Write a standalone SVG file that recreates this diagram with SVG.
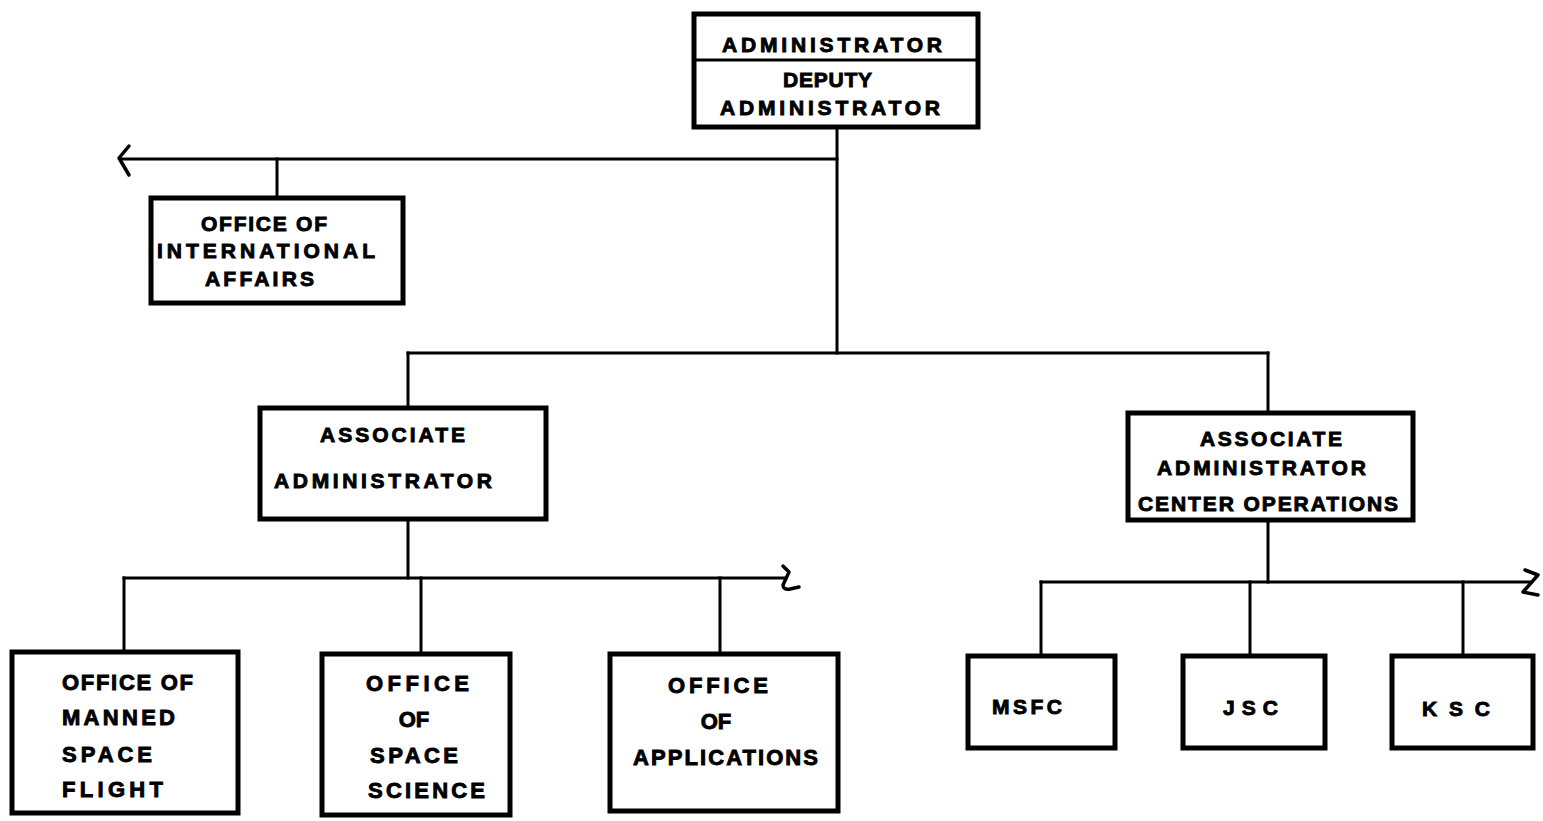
<svg xmlns="http://www.w3.org/2000/svg" width="1543" height="821" viewBox="0 0 1543 821">
<style>
.box{fill:#fff;stroke:#000;stroke-width:5}
.ln{fill:none;stroke:#000;stroke-width:3;stroke-linecap:square;stroke-linejoin:round}
.zz{fill:none;stroke:#000;stroke-width:3.5;stroke-linecap:round;stroke-linejoin:round}
text{font-family:"Liberation Sans",Arial,sans-serif;font-weight:bold;font-size:21px;fill:#000;stroke:#000;stroke-width:0.9}
.b{font-size:22px}
.c{text-anchor:middle}
</style>
<rect width="1543" height="821" fill="#fff"/>
<g id="connectors">
<path class="ln" d="M837 127 V353"/>
<path class="ln" d="M121 159 H837"/>
<path class="zz" d="M129 146 L119 158 L129 175"/>
<path class="ln" d="M277 159 V198"/>
<path class="ln" d="M408 353 H1268"/>
<path class="ln" d="M408 353 V408"/>
<path class="ln" d="M1268 353 V413"/>
<path class="ln" d="M408 519 V578"/>
<path class="ln" d="M124 578 H785"/>
<path class="zz" d="M783 566 L789 572 L783 585 Q783 590 790 589 L799 587"/>
<path class="ln" d="M124 578 V652"/>
<path class="ln" d="M421 578 V654"/>
<path class="ln" d="M720 578 V654"/>
<path class="ln" d="M1268 520 V582"/>
<path class="ln" d="M1041 582 H1530"/>
<path class="zz" d="M1525 570 L1538 575 L1523 592 L1538 595"/>
<path class="ln" d="M1041 582 V656"/>
<path class="ln" d="M1250 582 V656"/>
<path class="ln" d="M1463 582 V656"/>
</g>
<g id="admin">
<rect class="box" x="694" y="14" width="284" height="113"/>
<line x1="694" y1="60" x2="978" y2="60" stroke="#000" stroke-width="3"/>
<text x="722" y="52" textLength="220" lengthAdjust="spacing">ADMINISTRATOR</text>
<text x="783" y="87" textLength="89" lengthAdjust="spacing">DEPUTY</text>
<text x="720" y="115" textLength="220" lengthAdjust="spacing">ADMINISTRATOR</text>
</g>
<g id="oia">
<rect class="box" x="151" y="198" width="252" height="105"/>
<text x="201" y="231" textLength="126" lengthAdjust="spacing">OFFICE OF</text>
<text x="157" y="258" textLength="218" lengthAdjust="spacing">INTERNATIONAL</text>
<text x="205" y="286" textLength="109" lengthAdjust="spacing">AFFAIRS</text>
</g>
<g id="aa">
<rect class="box" x="260" y="408" width="286" height="111"/>
<text x="320" y="442" textLength="145" lengthAdjust="spacing">ASSOCIATE</text>
<text x="274" y="488" textLength="218" lengthAdjust="spacing">ADMINISTRATOR</text>
</g>
<g id="aaco">
<rect class="box" x="1128" y="413" width="285" height="107"/>
<text x="1200" y="446" textLength="142" lengthAdjust="spacing">ASSOCIATE</text>
<text x="1157" y="475" textLength="209" lengthAdjust="spacing">ADMINISTRATOR</text>
<text x="1138" y="511" textLength="260" lengthAdjust="spacing">CENTER OPERATIONS</text>
</g>
<g id="omsf">
<rect class="box" x="12" y="652" width="226" height="161"/>
<text class="b" x="62" y="690" textLength="131" lengthAdjust="spacing">OFFICE OF</text>
<text class="b" x="62" y="725" textLength="113" lengthAdjust="spacing">MANNED</text>
<text class="b" x="62" y="762" textLength="90" lengthAdjust="spacing">SPACE</text>
<text class="b" x="62" y="797" textLength="101" lengthAdjust="spacing">FLIGHT</text>
</g>
<g id="oss">
<rect class="box" x="322" y="654" width="188" height="161"/>
<text class="b" x="366" y="691" textLength="103" lengthAdjust="spacing">OFFICE</text>
<text class="b c" x="414" y="727">OF</text>
<text class="b" x="370" y="763" textLength="88" lengthAdjust="spacing">SPACE</text>
<text class="b" x="368" y="798" textLength="117" lengthAdjust="spacing">SCIENCE</text>
</g>
<g id="oa">
<rect class="box" x="610" y="654" width="228" height="157"/>
<text class="b" x="668" y="693" textLength="100" lengthAdjust="spacing">OFFICE</text>
<text class="b c" x="716" y="729">OF</text>
<text class="b" x="633" y="765" textLength="185" lengthAdjust="spacing">APPLICATIONS</text>
</g>
<g id="msfc">
<rect class="box" x="968" y="656" width="147" height="92"/>
<text x="992" y="714" textLength="70" lengthAdjust="spacing">MSFC</text>
</g>
<g id="jsc">
<rect class="box" x="1183" y="656" width="142" height="92"/>
<text x="1223" y="715" textLength="55" lengthAdjust="spacing">JSC</text>
</g>
<g id="ksc">
<rect class="box" x="1392" y="656" width="141" height="92"/>
<text x="1422" y="716" textLength="68" lengthAdjust="spacing">KSC</text>
</g>
</svg>
